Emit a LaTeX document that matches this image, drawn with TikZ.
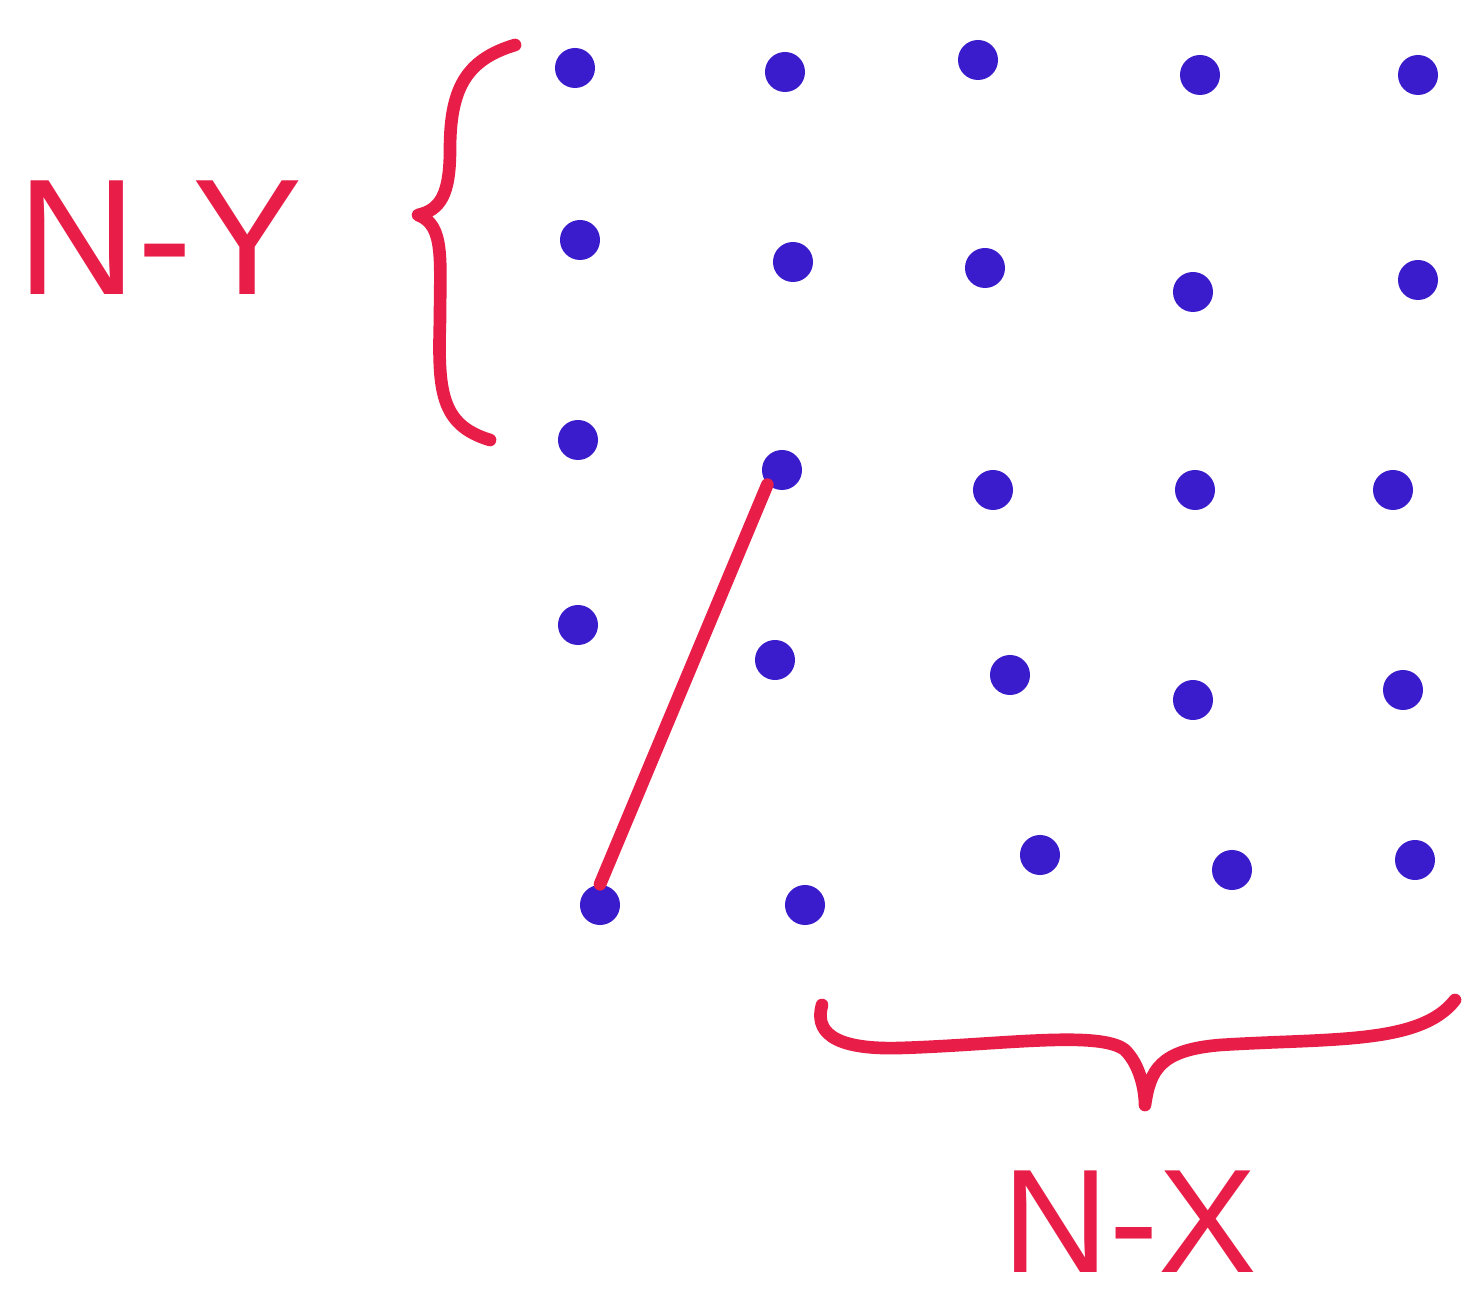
\documentclass[tikz,border=0pt]{standalone}
\usepackage{fontspec}
\setmainfont{Liberation Sans}
\begin{document}
\begin{tikzpicture}[x=0.01cm,y=-0.01cm,
  dotnode/.style={circle,fill=dotblue,draw=none,minimum size=0.4cm,inner sep=0pt},
  redstroke/.style={draw=inkred,line width=3.6pt,line cap=round,line join=round},
  lbl/.style={text=inkred,inner sep=0pt}]
\definecolor{dotblue}{RGB}{58,28,205}
\definecolor{inkred}{RGB}{232,30,72}
\useasboundingbox (0,0) rectangle (1475,1304);
\fill[white] (0,0) rectangle (1475,1304);
% dots
\foreach \n/\x/\y in {11/575/68,12/785/72,13/978/60,14/1200/75,15/1418/75,
  21/580/240,22/793/262,23/985/268,24/1193/292,25/1418/280,
  31/578/440,32/782/470,33/993/490,34/1195/490,35/1393/490,
  41/578/625,42/775/660,43/1010/675,44/1193/700,45/1403/690,
  51/600/905,52/805/905,53/1040/855,54/1232/870,55/1415/860}
  \node[dotnode] (d\n) at (\x,\y) {};
% red line
\draw[redstroke] (d51.north) -- (d32.south west);
% left brace
\coordinate (lbtop) at (515,45);
\coordinate (lbtip) at (418,215);
\coordinate (lbbot) at (490,440);
\draw[redstroke] (lbtop) .. controls (465,60) and (450,90) .. (450,150)
  .. controls (450,195) and (440,210) .. (lbtip)
  .. controls (445,225) and (440,260) .. (440,320)
  .. controls (438,390) and (440,425) .. (lbbot);
% bottom brace
\coordinate (bbl) at (822,1005);
\coordinate (bbtip) at (1145,1105);
\coordinate (bbr) at (1455,1000);
\draw[redstroke] (bbl) .. controls (815,1030) and (830,1050) .. (900,1048)
  .. controls (1000,1045) and (1100,1030) .. (1125,1050)
  .. controls (1140,1065) and (1145,1090) .. (bbtip)
  .. controls (1150,1070) and (1160,1050) .. (1220,1045)
  .. controls (1330,1038) and (1420,1045) .. (bbr);
% labels
\node[lbl,font=\fontsize{47}{47}\selectfont] (ny) at (160,238) {N-Y};
\node[lbl,font=\fontsize{42}{42}\selectfont] (nx) at (1130,1222) {N-X};
\end{tikzpicture}
\end{document}
